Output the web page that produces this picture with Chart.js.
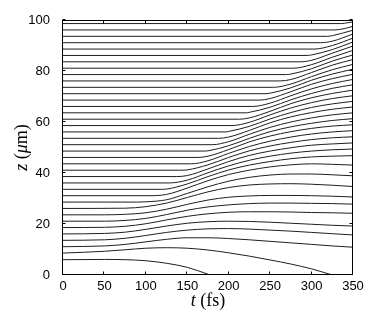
<!DOCTYPE html>
<html lang="en">
<head>
  <meta charset="UTF-8">
  <title>z(t) trajectories</title>
  <script src="https://cdn.jsdelivr.net/npm/chart.js@4.4.0/dist/chart.umd.min.js"></script>
  <style>
    body { margin: 0; background: #fff; }
    #wrap { width: 374px; height: 327px; }
  </style>
</head>
<body>
  <div id="wrap"><canvas id="myChart"></canvas></div>
  <script>
    // tick values on both axes
    const xTicks = [0, 50, 100, 150, 200, 250, 300, 350];
    const yTicks = [0, 20, 40, 60, 80, 100];

    // one trajectory per line: [t (fs), z (um)]
    const tracks = [
      [[0,6.0],[50,6.1],[75,6.0],[100,5.6],[125,4.6],[150,3.0],[175,0.3],[200,-2.5]],
      [[0,8.6],[50,9.3],[75,9.9],[100,10.5],[125,10.7],[150,10.5],[175,9.8],[200,8.7],[225,7.4],[250,5.9],[275,4.3],[300,2.4],[325,0.0],[350,-2.5]],
      [[0,11.1],[50,11.4],[75,12.0],[100,13.0],[125,14.0],[150,14.6],[175,14.6],[200,14.3],[225,13.8],[250,13.2],[275,12.6],[300,12.0],[325,11.4],[350,10.9]],
      [[0,13.6],[50,13.8],[75,14.4],[100,15.5],[125,16.7],[150,17.6],[175,18.1],[200,18.2],[225,18.0],[250,17.6],[275,17.2],[300,16.7],[325,16.2],[350,15.7]],
      [[0,16.1],[50,16.3],[75,16.8],[100,17.9],[125,19.2],[150,20.3],[175,20.9],[200,21.1],[225,21.0],[250,20.7],[275,20.3],[300,19.9],[325,19.5],[350,19.2]],
      [[0,18.6],[50,18.7],[75,19.1],[100,20.1],[125,21.6],[150,23.0],[175,24.0],[200,24.6],[225,24.8],[250,24.8],[275,24.7],[300,24.5],[325,24.4],[350,24.2]],
      [[0,21.1],[50,21.1],[75,21.4],[100,22.2],[125,23.7],[150,25.4],[175,26.7],[200,27.5],[225,28.0],[250,28.2],[275,28.2],[300,28.1],[325,28.0],[350,27.8]],
      [[0,23.6],[50,23.6],[75,23.8],[100,24.4],[125,25.8],[150,27.7],[175,29.4],[200,30.5],[225,31.0],[250,31.2],[275,31.2],[300,31.1],[325,30.9],[350,30.6]],
      [[0,26.1],[75,26.2],[100,26.8],[125,28.2],[150,30.4],[175,32.6],[200,34.3],[225,35.3],[250,35.7],[275,35.8],[300,35.6],[325,35.2],[350,34.7]],
      [[0,28.6],[90,28.6],[100,28.7],[125,29.5],[150,32.0],[175,34.6],[200,36.8],[225,38.3],[250,39.2],[275,39.6],[300,39.6],[325,39.3],[350,38.9]],
      [[0,31.1],[105,31.1],[125,31.6],[150,34.1],[175,37.0],[200,39.4],[225,41.1],[250,42.4],[275,43.2],[300,43.6],[325,43.4],[350,43.1]],
      [[0,33.6],[118,33.6],[125,33.7],[150,35.7],[175,38.6],[200,41.2],[225,43.1],[250,44.5],[275,45.6],[300,46.3],[325,46.6],[350,46.8]],
      [[0,36.1],[128,36.1],[150,37.2],[175,40.1],[200,42.8],[225,45.0],[250,46.6],[275,47.8],[300,48.6],[325,49.1],[350,49.4]],
      [[0,38.6],[137,38.6],[150,39.0],[175,41.6],[200,44.5],[225,46.9],[250,48.6],[275,49.9],[300,50.9],[325,51.4],[350,51.8]],
      [[0,41.1],[146,41.1],[150,41.2],[175,43.2],[200,46.1],[225,48.7],[250,50.6],[275,52.0],[300,53.1],[325,53.8],[350,54.2]],
      [[0,43.6],[155,43.6],[175,44.8],[200,47.7],[225,50.4],[250,52.5],[275,54.1],[300,55.3],[325,56.1],[350,56.6]],
      [[0,46.1],[163,46.1],[175,46.6],[200,49.2],[225,52.2],[250,54.5],[275,56.2],[300,57.5],[325,58.4],[350,58.9]],
      [[0,48.6],[172,48.6],[175,48.7],[200,50.7],[225,53.6],[250,56.2],[275,58.1],[300,59.5],[325,60.6],[350,61.3]],
      [[0,51.1],[180,51.1],[200,52.3],[225,55.2],[250,57.9],[275,60.0],[300,61.6],[325,62.8],[350,63.6]],
      [[0,53.6],[188,53.6],[200,54.1],[225,56.7],[250,59.7],[275,62.0],[300,63.7],[325,65.0],[350,65.9]],
      [[0,56.1],[196,56.1],[200,56.3],[225,58.3],[250,61.2],[275,63.7],[300,65.7],[325,67.1],[350,68.1]],
      [[0,58.6],[204,58.6],[225,59.9],[250,62.8],[275,65.5],[300,67.6],[325,69.2],[350,70.3]],
      [[0,61.1],[213,61.1],[225,61.6],[250,64.2],[275,67.2],[300,69.5],[325,71.2],[350,72.5]],
      [[0,63.6],[221,63.6],[225,63.8],[250,65.8],[275,68.7],[300,71.2],[325,73.2],[350,74.6]],
      [[0,66.1],[229,66.1],[250,67.4],[275,70.3],[300,73.0],[325,75.1],[350,76.7]],
      [[0,68.6],[237,68.6],[250,69.2],[275,71.9],[300,74.8],[325,77.0],[350,78.7]],
      [[0,71.1],[245,71.1],[250,71.3],[275,73.4],[300,76.4],[325,78.8],[350,80.7]],
      [[0,73.6],[254,73.6],[275,74.9],[300,77.8],[325,80.5],[350,82.6]],
      [[0,76.1],[262,76.1],[275,76.65],[300,79.4],[325,82.3],[350,84.5]],
      [[0,78.6],[270,78.6],[275,78.8],[300,80.9],[325,83.9],[350,86.3]],
      [[0,81.1],[278,81.1],[300,82.5],[325,85.4],[350,88.1]],
      [[0,83.6],[286,83.6],[300,84.2],[325,87.0],[350,89.8]],
      [[0,86.1],[295,86.1],[300,86.3],[325,88.4],[350,91.4]],
      [[0,88.6],[303,88.6],[325,90.0],[350,92.9]],
      [[0,91.1],[311,91.1],[325,91.7],[350,94.5]],
      [[0,93.6],[319,93.6],[325,93.85],[350,96.0]],
      [[0,96.1],[327,96.1],[340,96.65],[350,97.55]],
      [[0,98.6],[336,98.6],[343,98.9],[350,99.25]]
    ];

    const tickFont = { family: '"Liberation Sans", Arial, sans-serif', size: 13 };
    const serif = '"Liberation Serif", "Times New Roman", serif';

    // writes a label made of pieces with different fonts, centred on (cx, cy)
    function drawPieces(ctx, pieces, cx, cy) {
      let w = 0;
      pieces.forEach(p => { ctx.font = p[1]; w += ctx.measureText(p[0]).width; });
      let x0 = cx - w / 2;
      pieces.forEach(p => {
        ctx.font = p[1];
        ctx.fillText(p[0], x0, cy);
        x0 += ctx.measureText(p[0]).width;
      });
    }

    // box round the plot, inward ticks on all four sides, axis titles
    const boxPlugin = {
      id: 'box',
      afterDatasetsDraw(chart) {
        const { ctx, chartArea: a, scales: { x, y } } = chart;
        ctx.save();
        ctx.strokeStyle = '#000';
        ctx.lineWidth = 1;
        const L = Math.round(a.left) - 0.5, R = Math.round(a.right) - 0.5;
        const T = Math.round(a.top) + 0.5, B = Math.round(a.bottom) - 0.5;
        ctx.beginPath();
        xTicks.forEach(v => {
          const px = Math.round(x.getPixelForValue(v)) - 0.5;
          ctx.moveTo(px, B); ctx.lineTo(px, B - 3);
          ctx.moveTo(px, T); ctx.lineTo(px, T + 3);
        });
        yTicks.forEach(v => {
          const py = Math.round(y.getPixelForValue(v)) - 0.5;
          ctx.moveTo(L, py); ctx.lineTo(L + 3, py);
          ctx.moveTo(R, py); ctx.lineTo(R - 3, py);
        });
        ctx.stroke();
        ctx.strokeRect(L, T, R - L, B - T);

        ctx.fillStyle = '#000';
        ctx.textBaseline = 'alphabetic';
        drawPieces(ctx, [['t', 'italic 18px ' + serif], [' (fs)', '18px ' + serif]],
          (a.left + a.right) / 2, 306);
        ctx.translate(27, (a.top + a.bottom) / 2);
        ctx.rotate(-Math.PI / 2);
        drawPieces(ctx, [['z', 'italic 18px ' + serif], [' (', '18px ' + serif],
          ['\u03bc', 'italic 18px ' + serif], ['m)', '18px ' + serif]], 0, 0);
        ctx.restore();
      }
    };

    const ctx = document.getElementById('myChart').getContext('2d');
    new Chart(ctx, {
      type: 'line',
      data: {
        datasets: tracks.map(tr => ({
          data: tr.map(p => ({ x: p[0], y: p[1] })),
          borderColor: '#1e1e1e',
          borderWidth: 1,
          pointRadius: 0,
          fill: false,
          cubicInterpolationMode: 'monotone',
          clip: 0
        }))
      },
      options: {
        animation: false,
        responsive: true,
        maintainAspectRatio: false,
        events: [],
        layout: { padding: { top: 20, right: 21, left: 0, bottom: 0 } },
        plugins: { legend: { display: false }, tooltip: { enabled: false } },
        scales: {
          x: {
            type: 'linear', min: 0, max: 350,
            afterBuildTicks: s => { s.ticks = xTicks.map(v => ({ value: v })); },
            afterFit: s => { s.height = 52; },
            ticks: { font: tickFont, color: '#000', padding: -4, maxRotation: 0, autoSkip: false },
            grid: { display: false },
            border: { display: false }
          },
          y: {
            type: 'linear', min: 0, max: 100,
            afterBuildTicks: s => { s.ticks = yTicks.map(v => ({ value: v })); },
            afterFit: s => { s.width = 63; },
            ticks: { font: tickFont, color: '#000', padding: 5, autoSkip: false },
            grid: { display: false },
            border: { display: false }
          }
        }
      },
      plugins: [boxPlugin]
    });
  </script>
</body>
</html>
